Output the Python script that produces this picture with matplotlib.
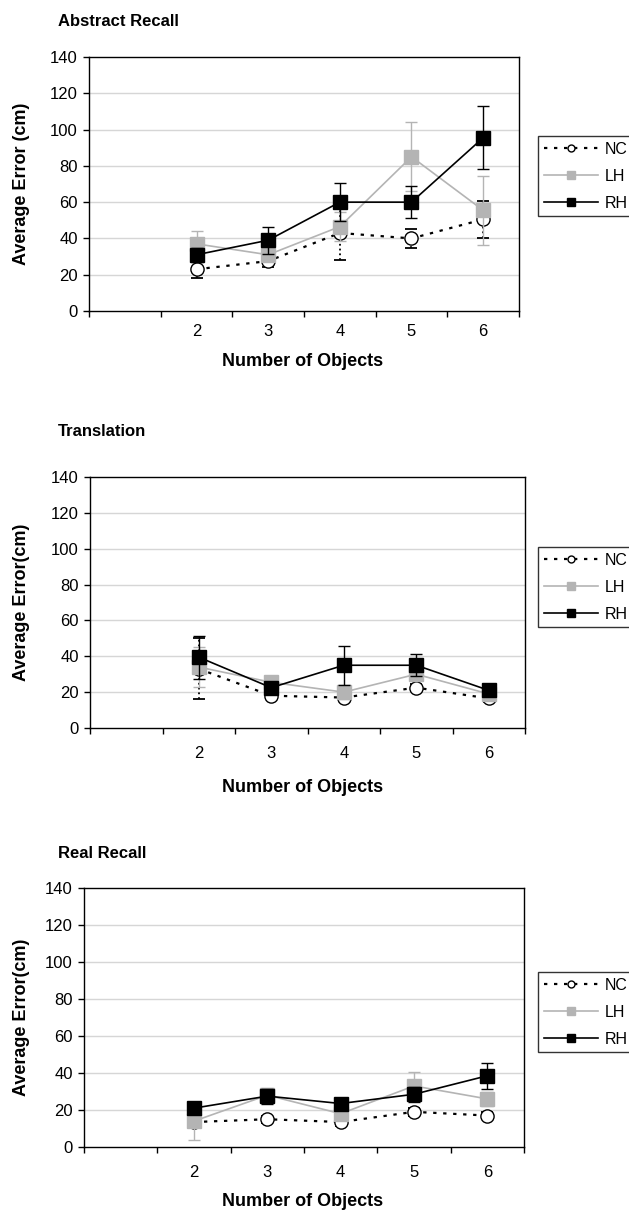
import matplotlib
matplotlib.use("Agg")
import matplotlib.pyplot as plt
from matplotlib.lines import Line2D

plt.rcParams['font.family'] = ['Liberation Sans', 'DejaVu Sans']

objects = ["2", "3", "4", "5", "6"]
series_names = ["NC", "LH", "RH"]

abstract_nc = [23, 27.5, 43, 40, 50.5]
abstract_nc_err = [5, 3, 15, 5, 10]
abstract_lh = [37, 31, 46.5, 85, 55.5]
abstract_lh_err = [7, 3, 8, 19, 19]
abstract_rh = [31, 39, 60, 60, 95.5]
abstract_rh_err = [4, 7.5, 10.5, 9, 17.5]

translation_nc = [33, 18, 17, 22.5, 16.5]
translation_nc_err = [17, 2, 2, 2, 2]
translation_lh = [34, 25.5, 20, 30, 19]
translation_lh_err = [11, 3, 4, 3, 2]
translation_rh = [39.5, 22.5, 35, 35, 21]
translation_rh_err = [12, 3, 11, 6, 2]

real_nc = [13.5, 15, 13.5, 19, 17]
real_nc_err = [2, 2, 2, 2, 2]
real_lh = [14, 28, 18, 33, 26]
real_lh_err = [10, 4, 3, 7.5, 4]
real_rh = [21, 27.5, 23.5, 28.5, 38.5]
real_rh_err = [3, 4, 3, 4, 7]

GRAY = '#b4b4b4'
W, H = 629.0, 1212.0

fig = plt.figure(figsize=(W / 100, H / 100), dpi=100)

# pixel layout: axes box (l, t, r, b), title y, legend (top, bottom), tick label pad, xlabel y
panels = [
    ("Abstract Recall", "Average Error (cm)", (89, 57, 519, 311), 22, (136, 217), 9, 362,
     (abstract_nc, abstract_nc_err), (abstract_lh, abstract_lh_err), (abstract_rh, abstract_rh_err)),
    ("Translation", "Average Error(cm)", (90, 477, 525, 728), 432, (547, 628), 13, 787,
     (translation_nc, translation_nc_err), (translation_lh, translation_lh_err), (translation_rh, translation_rh_err)),
    ("Real Recall", "Average Error(cm)", (84, 888, 524, 1147), 854, (972, 1053), 13, 1202,
     (real_nc, real_nc_err), (real_lh, real_lh_err), (real_rh, real_rh_err)),
]

xpos = [i + 1.5 for i in range(len(objects))]

for title, ylab, (l, t, r, b), ty, (lt, lb), tpad, xly, nc, lh, rh in panels:
    ax = fig.add_axes([l / W, 1 - b / H, (r - l) / W, (b - t) / H])
    ax.set_xlim(0, 6)
    ax.set_ylim(0, 140)
    ax.set_yticks(range(0, 141, 20))
    for y in range(20, 140, 20):
        ax.axhline(y, color='#d6d6d6', lw=1.0, zorder=0)

    # NC
    eb = ax.errorbar(xpos, nc[0], yerr=nc[1], fmt='none', ecolor='black', elinewidth=1.3,
                     capsize=4, capthick=1.3, zorder=2)
    eb[2][0].set_linestyle(':')
    for cap in eb[1]:
        cap.set_marker('_')
    ax.plot(xpos, nc[0], color='black', ls=(0, (1.5, 3)), lw=1.6, marker='o', ms=9.5,
            mfc='white', mec='black', mew=1.0, zorder=3)
    # LH
    ax.errorbar(xpos, lh[0], yerr=lh[1], fmt='none', ecolor=GRAY, elinewidth=1.0,
                capsize=4, capthick=1.0, zorder=4)
    ax.plot(xpos, lh[0], color=GRAY, lw=1.2, marker='s', ms=9.5, mfc=GRAY, mec=GRAY, zorder=5)
    # RH
    ax.errorbar(xpos, rh[0], yerr=rh[1], fmt='none', ecolor='black', elinewidth=1.0,
                capsize=4, capthick=1.0, zorder=6)
    ax.plot(xpos, rh[0], color='black', lw=1.2, marker='s', ms=9.5, mfc='black', mec='black', zorder=7)

    ax.set_xticks(range(7))
    ax.set_xticklabels([])
    ax.set_xticks(xpos, objects, minor=True)
    ax.tick_params(axis='x', which='major', direction='out', length=4, width=1)
    ax.tick_params(axis='x', which='minor', length=0, pad=tpad, labelsize=12)
    ax.tick_params(axis='y', direction='out', length=4, width=1, labelsize=12, pad=4)
    for s in ax.spines.values():
        s.set_linewidth(1.0)

    ax.set_xlabel("Number of Objects", fontsize=13, fontweight='bold', va='center')
    ax.xaxis.set_label_coords(303 / W, 1 - xly / H, transform=fig.transFigure)
    ax.set_ylabel(ylab, fontsize=13, fontweight='bold', va='center')
    ax.yaxis.set_label_coords(22 / W, 1 - (t + b) / 2 / H, transform=fig.transFigure)
    fig.text(58 / W, 1 - ty / H, title, fontsize=12, fontweight='bold', va='center', ha='left')

    handles = [
        Line2D([], [], color='black', ls=(0, (1.5, 3)), lw=1.6, marker='o', ms=5,
               mfc='white', mec='black'),
        Line2D([], [], color=GRAY, lw=1.2, marker='s', ms=6, mfc=GRAY, mec=GRAY),
        Line2D([], [], color='black', lw=1.2, marker='s', ms=6, mfc='black', mec='black'),
    ]
    leg = fig.legend(handles, series_names, loc='upper left', mode='expand',
                     bbox_to_anchor=(538 / W, 1 - lb / H, 0.3, (lb - lt) / H), fontsize=11.5,
                     handlelength=3.4, handletextpad=0.45, labelspacing=0.75,
                     borderpad=0.35, borderaxespad=0, fancybox=False, frameon=True)
    leg.get_frame().set_edgecolor('black')
    leg.get_frame().set_linewidth(1.0)

fig.savefig("out.png", dpi=100)
